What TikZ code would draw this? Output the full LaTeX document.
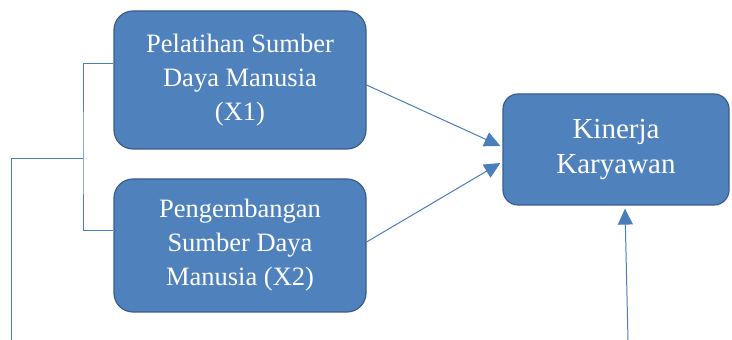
\documentclass[tikz,border=0pt]{standalone}
\usepackage{fontspec}
\setmainfont{Liberation Serif}
\usetikzlibrary{arrows.meta}
\definecolor{boxfill}{HTML}{4F81BD}
\definecolor{boxline}{HTML}{385D8A}
\definecolor{wire}{HTML}{4A7EBB}
\begin{document}
\begin{tikzpicture}[
  x=1pt, y=1pt,
  varbox/.style={draw=boxline, line width=1.2pt, fill=boxfill, rounded corners=19pt,
    text=white, align=center, inner sep=0pt},
  smalltext/.style={font=\fontsize{26.5}{34}\selectfont},
  bigtext/.style={font=\fontsize{29}{35}\selectfont},
  link/.style={draw=wire, line width=1pt},
  arrowlink/.style={link, -{Triangle[length=16pt,width=15pt]}}
]
\useasboundingbox (0,0) rectangle (732,340);

% variable boxes
\node[varbox, smalltext, minimum width=252pt, minimum height=138pt] (x1) at (240,260)
  {Pelatihan Sumber\\Daya Manusia\\(X1)};
\node[varbox, smalltext, minimum width=252pt, minimum height=133pt] (x2) at (240,94.5)
  {Pengembangan\\Sumber Daya\\Manusia (X2)};
\node[varbox, bigtext, rounded corners=15pt, minimum width=226pt, minimum height=111pt] (y) at (616,190.5)
  {Kinerja\\Karyawan};

% bracket joining both inputs
\coordinate (join) at (83,181);
\coordinate (leftfoot) at (11,0);
\coordinate (bottomfoot) at (628,0);
\draw[link] ([yshift=16pt]x1.west) -| (join) |- ([yshift=14.5pt]x2.west);
\draw[link] (join) -| (leftfoot);

% influence arrows
\draw[arrowlink] ([yshift=-5pt]x1.east) -- ([xshift=-2pt,yshift=3.5pt]y.west);
\draw[arrowlink] ([yshift=3.5pt]x2.east) -- ([xshift=-2pt,yshift=-13.5pt]y.west);
\draw[arrowlink] (bottomfoot) -- ([xshift=9pt,yshift=-3pt]y.south);
\end{tikzpicture}
\end{document}
